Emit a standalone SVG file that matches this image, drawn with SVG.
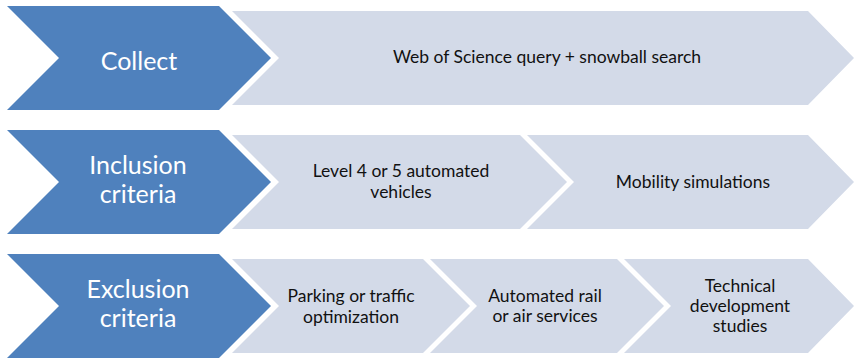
<svg xmlns="http://www.w3.org/2000/svg" width="854" height="358" viewBox="0 0 854 358">
<style>
.blue{fill:#4F81BD}
.light{fill:#D3DAE8}
.bt{font-family:Lato,"Liberation Sans",sans-serif;font-size:25px;fill:#FFFFFF;text-anchor:middle}
.lt{font-family:Lato,"Liberation Sans",sans-serif;font-size:17.5px;fill:#111111;text-anchor:middle}
</style>
<rect width="854" height="358" fill="#FFFFFF"/>
<g id="collect">
<polygon class="blue" points="7,6 219,6 271,58 219,110 7,110 59,58"/>
<text class="bt" x="139" y="70">Collect</text>
</g>
<g id="collect-detail">
<polygon class="light" points="232,11 808,11 854,58 808,105 232,105 279,58"/>
<text class="lt" x="547" y="63">Web of Science query + snowball search</text>
</g>
<g id="inclusion">
<polygon class="blue" points="7,130 219,130 271,182 219,234 7,234 59,182"/>
<text class="bt" x="138" y="174">Inclusion</text>
<text class="bt" x="138" y="203">criteria</text>
</g>
<g id="inclusion-1">
<polygon class="light" points="232,135 520,135 567,182 520,229 232,229 279,182"/>
<text class="lt" x="401" y="177">Level 4 or 5 automated</text>
<text class="lt" x="401" y="198">vehicles</text>
</g>
<g id="inclusion-2">
<polygon class="light" points="527,135 808,135 854,182 808,229 527,229 574,182"/>
<text class="lt" x="693" y="188">Mobility simulations</text>
</g>
<g id="exclusion">
<polygon class="blue" points="7,254 219,254 271,306 219,358 7,358 59,306"/>
<text class="bt" x="138" y="298">Exclusion</text>
<text class="bt" x="138" y="327">criteria</text>
</g>
<g id="exclusion-1">
<polygon class="light" points="232,259 423,259 470,306 423,353 232,353 279,306"/>
<text class="lt" x="351" y="302">Parking or traffic</text>
<text class="lt" x="351" y="323">optimization</text>
</g>
<g id="exclusion-2">
<polygon class="light" points="430,259 617,259 664,306 617,353 430,353 477,306"/>
<text class="lt" x="545" y="302">Automated rail</text>
<text class="lt" x="545" y="322">or air services</text>
</g>
<g id="exclusion-3">
<polygon class="light" points="624,259 808,259 854,306 808,353 624,353 671,306"/>
<text class="lt" x="740" y="292">Technical</text>
<text class="lt" x="740" y="312">development</text>
<text class="lt" x="740" y="332">studies</text>
</g>
<g id="connectors"></g>
</svg>
